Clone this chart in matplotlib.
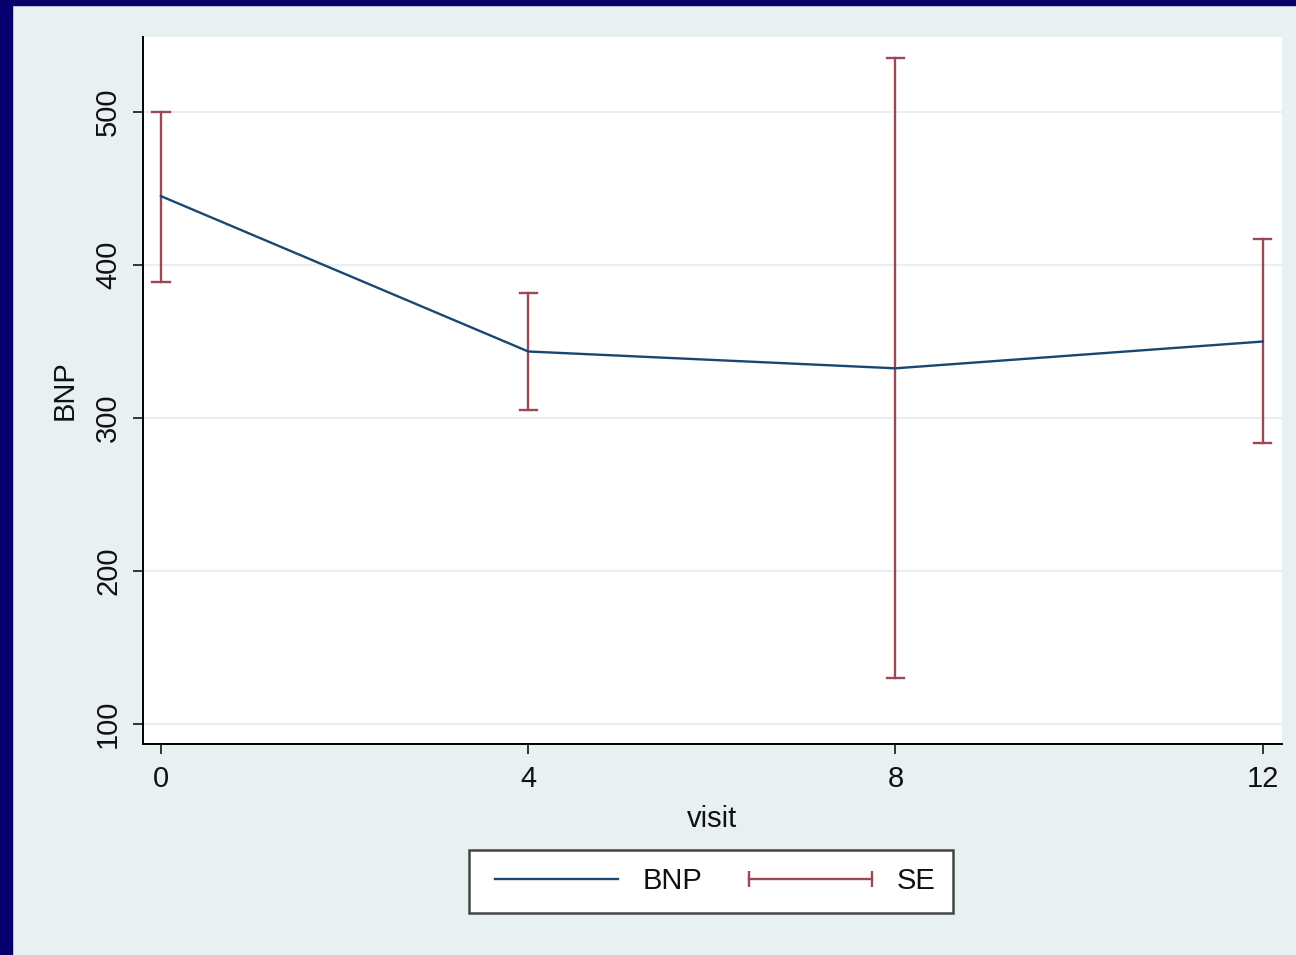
import matplotlib
matplotlib.use("Agg")
import matplotlib.pyplot as plt
from matplotlib.lines import Line2D
from matplotlib.patches import Rectangle

visit = [0, 4, 8, 12]
bnp = [445, 343.5, 332.5, 350]
se_upper = [500, 382, 535, 417]
se_lower = [389, 305, 130, 284]
xticks = [0, 4, 8, 12]
yticks = [100, 200, 300, 400, 500]

plt.rcParams['font.family'] = ['Liberation Sans', 'DejaVu Sans']

W, H = 1296, 955
fig = plt.figure(figsize=(W / 100, H / 100), dpi=100)
fig.patch.set_facecolor('#e8f0f2')

# navy frame strips
fig.patches.append(Rectangle((0, 0), 12 / W, 1, transform=fig.transFigure,
                             color='#05006e', zorder=0))
fig.patches.append(Rectangle((0, 1 - 5 / H), 1, 5 / H, transform=fig.transFigure,
                             color='#05006e', zorder=0))

left, right = 143 / W, 1282 / W
bottom, top = 1 - 744 / H, 1 - 37 / H
ax = fig.add_axes([left, bottom, right - left, top - bottom])
ax.set_facecolor('white')

line_col = '#1a476f'
err_col = '#9b4a55'

ax.plot(visit, bnp, color=line_col, lw=1.7, zorder=3)
for x, lo, hi in zip(visit, se_lower, se_upper):
    ax.plot([x, x], [lo, hi], color=err_col, lw=1.7, zorder=2)
    ax.plot([x - 0.095, x + 0.095], [lo, lo], color=err_col, lw=1.7, zorder=2)
    ax.plot([x - 0.095, x + 0.095], [hi, hi], color=err_col, lw=1.7, zorder=2)

ax.set_xlim(-0.196, 12.21)
ax.set_ylim(87, 549)
ax.set_xticks(xticks)
ax.set_yticks(yticks)
ax.yaxis.grid(True, color='#eaf0f1', lw=1.5)
ax.set_axisbelow(True)

for s in ['top', 'right']:
    ax.spines[s].set_visible(False)
for s in ['left', 'bottom']:
    ax.spines[s].set_color('black')
    ax.spines[s].set_linewidth(1.4)

ax.tick_params(axis='both', length=7, width=1.4, color='#333333',
               labelsize=21, pad=8, labelcolor='#111111')
for lab in ax.get_yticklabels():
    lab.set_rotation(90)
    lab.set_va('center')

ax.set_ylabel('BNP', fontsize=21, labelpad=11, color='#111111')
ax.set_xlabel('visit', fontsize=21, labelpad=9, color='#111111')

handles = [
    Line2D([], [], color=line_col, lw=1.7),
    Line2D([], [], color=err_col, lw=1.7, marker='|', markersize=12,
           markeredgewidth=1.7),
]
leg = fig.legend(handles, ['BNP', 'SE'], loc='center',
                 bbox_to_anchor=(711 / W, 1 - 881 / H), ncol=2,
                 fontsize=21, frameon=True, fancybox=False, numpoints=2,
                 handlelength=4.8, handletextpad=0.55, columnspacing=1.3,
                 borderpad=0.6, borderaxespad=0)
for t in leg.get_texts():
    t.set_color('#111111')
leg.get_frame().set_edgecolor('#444444')
leg.get_frame().set_linewidth(1.8)
leg.get_frame().set_facecolor('white')
leg.get_frame().set_alpha(1)

fig.savefig('out.png', dpi=100, facecolor=fig.get_facecolor())
